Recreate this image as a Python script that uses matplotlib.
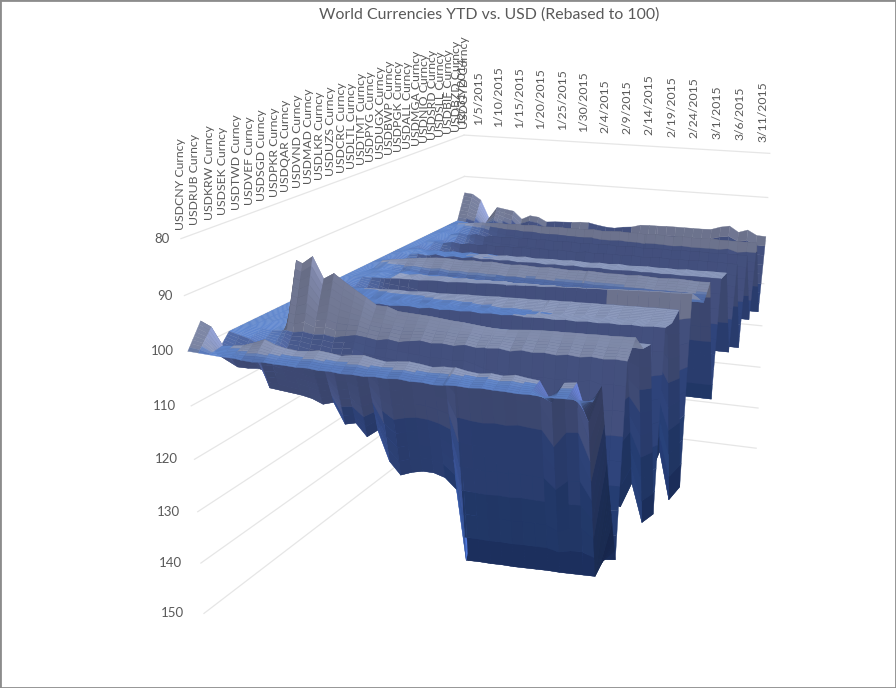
import numpy as np
import matplotlib
matplotlib.use('Agg')
import matplotlib.pyplot as plt
from matplotlib.patches import Rectangle
from matplotlib.colors import to_rgb
from mpl_toolkits.mplot3d import proj3d

series = ['USDCNY', 'USDRUB', 'USDKRW', 'USDSEK', 'USDTWD', 'USDVEF', 'USDSGD', 'USDPKR', 'USDQAR', 'USDVND',
          'USDMAD', 'USDLKR', 'USDUZS', 'USDCRC', 'USDLTL', 'USDTMT', 'USDPYG', 'USDUGX', 'USDBWP', 'USDPGK',
          'USDALL', 'USDMGA', 'USDNIO', 'USDSRD', 'USDSLL', 'USDBIF', 'USDBZD', 'USDGYD']
date_labels = ['12/31/2014', '1/5/2015', '1/10/2015', '1/15/2015', '1/20/2015', '1/25/2015', '1/30/2015', '2/4/2015',
               '2/9/2015', '2/14/2015', '2/19/2015', '2/24/2015', '3/1/2015', '3/6/2015', '3/11/2015']
levels = [80, 90, 100, 110, 120, 130, 140, 150]

# days since 12/31/2014
days = [0, 2, 4, 6, 8, 8.8, 10, 12, 14, 16, 18, 20, 22, 24, 26, 28, 30, 32, 34, 36,
        38, 40, 42, 44, 45.6, 46, 48, 50, 52, 54, 56, 58, 60, 62, 64, 66, 68, 70]

cny = [100, 100.1, 100.2, 100.3, 100.3, 100.3, 100.5, 100.6, 100.4, 100.5, 100.5, 100.6, 100.5, 100.7, 100.6, 100.8, 100.7, 100.8, 100.6, 100.7,
       100.5, 100.7, 100.6, 100.8, 100.7, 100.6, 100.5, 100.6, 100.4, 100.5, 100.5, 100.6, 100.5, 100.6, 100.6, 100.5, 100.5, 100.5]
rub = [95.7, 96.6, 99.8, 99.6, 99.3, 99, 98.6, 97.8, 98.6, 99, 99.2, 99, 98.7, 98.9, 99.2, 98.8, 98.6, 99, 99.3, 99,
       98.8, 99, 99.3, 99, 99, 98.9, 99.3, 99.5, 99.2, 99.4, 99, 99.3, 99.5, 103, 99.4, 99.1, 105.5, 99.3]
krw = [103, 104, 105, 105, 104.8, 105, 108.2, 108.4, 108.6, 108.8, 109.2, 110, 109.4, 113.2, 112.7, 115, 113.5, 119, 121.3, 120.5,
       120, 120, 120.6, 122.5, 135.5, 135.5, 135.4, 135.4, 135.3, 135.3, 135.2, 135.1, 135, 135, 134.9, 134.8, 134.7, 118]
sek = [100, 100.5, 101, 102, 103, 103.5, 105, 106, 106.5, 107, 107.5, 108, 108, 110, 110.5, 112, 112, 116, 119, 119,
       119, 119.5, 120, 122, 128, 129, 131, 132, 133, 133, 133, 132.5, 132, 133, 131, 134, 133.5, 133.2]
twd = [100, 100, 100.2, 100.4, 100.2, 100.1, 100.3, 100, 100.3, 100.1, 100.4, 100, 99.6, 99.8, 100.1, 99.7, 100, 99.6, 99.3, 99.6,
       99.4, 99.6, 99.2, 99.5, 99.3, 99.3, 99.1, 99.4, 99, 99.2, 99, 99.2, 98.9, 99.1, 98.8, 99, 98.8, 98.9]
vef = [100, 100, 100, 100.2, 100.4, 88, 88.5, 87, 91, 89.8, 91.2, 92.5, 93.7, 95, 95, 95.7, 95.8, 95.9, 96, 96.2,
       96.4, 96.5, 96.7, 96.9, 97, 97, 97, 96.8, 96.6, 96.5, 96.4, 96.4, 96.3, 96.3, 96.2, 96.2, 96.1, 96]
sgd = [100, 100.1, 100.3, 100.2, 100.4, 100.3, 100.2, 100.4, 100.1, 100.3, 100, 100.2, 99.9, 100.1, 99.8, 100, 99.7, 99.9, 99.6, 99.8,
       99.7, 99.5, 99.7, 99.4, 99.5, 99.6, 99.4, 99.5, 99.3, 99.4, 99.2, 99.4, 99.3, 99.2, 99.3, 99.1, 99.2, 99.2]
pkr = [100, 100.2, 100, 99.8, 99.9, 100, 99.8, 100, 99.8, 99.9, 100, 99.8, 99.9, 99.7, 99.9, 99.8, 99.7, 99.9, 99.8, 99.7,
       99.8, 99.6, 99.8, 99.7, 99.8, 99.7, 99.6, 99.8, 99.7, 99.8, 99.6, 99.8, 99.7, 99.8, 99.6, 99.7, 99.7, 99.7]
qar = [100, 100.5, 101, 102, 104, 104.5, 106, 108, 110, 111, 112, 113.5, 113.5, 116, 116, 118, 118, 122, 124, 125,
       126, 126.5, 127, 128, 129, 129.5, 130, 130.5, 131, 131.5, 132, 132, 132, 132.5, 133, 128, 135.5, 133.5]
vnd = [100, 100.3, 100.1, 100.4, 100.2, 100.2, 100.4, 100.1, 100.3, 100, 100.2, 100, 99.9, 100.1, 99.8, 100, 99.8, 99.9, 99.7, 99.9,
       99.7, 99.8, 99.6, 99.7, 99.6, 99.6, 99.5, 99.6, 99.4, 99.5, 99.3, 99.4, 99.2, 99.3, 99.1, 99.2, 99, 99]
mad = [100, 100.2, 100, 100.3, 100.5, 100.3, 100.1, 100.4, 100, 100.3, 100, 100.2, 100.4, 100, 100.1, 99.9, 100.2, 99.9, 100.1, 99.8,
       100, 99.8, 99.9, 99.8, 99.7, 99.7, 99.8, 99.6, 99.7, 99.5, 99.6, 99.4, 99.5, 99.4, 99.3, 99.4, 99.3, 99.3]
lkr = [100, 100, 99.9, 99.8, 99.7, 99.7, 99.6, 99.6, 99.5, 99.4, 99.5, 99.3, 99.2, 99.3, 99.2, 99.1, 99, 99, 98.9, 98.8,
       98.8, 98.7, 98.7, 98.6, 98.6, 98.5, 98.5, 98.4, 98.4, 98.3, 98.3, 98.2, 98.2, 98.1, 98.1, 98, 98, 98]
uzs = [100, 100.5, 101.5, 103, 105, 106, 108, 110, 112, 114, 115, 116, 116, 120, 120, 122, 122, 126, 128, 129,
       129, 130, 131, 132, 132.5, 133, 133.5, 133.5, 134, 133.5, 134, 133.5, 134, 133, 134, 128, 137.8, 134.8]
crc = [100, 100, 99.9, 99.9, 99.8, 99.8, 99.7, 99.6, 99.5, 99.6, 99.4, 99.3, 99.4, 99.2, 99.1, 99.1, 98.9, 98.8, 98.8, 98.6,
       98.5, 98.4, 98.4, 98.2, 98.1, 98.1, 98, 97.9, 97.8, 97.7, 97.6, 97.5, 97.4, 97.3, 97.2, 97.2, 97.1, 97]
ltl = [100, 100.1, 100, 99.7, 99.8, 99.8, 99.6, 99.8, 99.5, 99.7, 99.6, 99.5, 99.7, 99.5, 99.6, 99.4, 99.5, 99.3, 99.5, 99.4,
       99.3, 99.4, 99.2, 99.4, 99.3, 99.3, 99.2, 99.3, 99.2, 99.3, 99.1, 99.2, 99.1, 99.2, 99, 99.1, 99, 99]
tmt = [100, 100.4, 100, 100.3, 100.6, 100.4, 100.2, 100.5, 100.8, 100.5, 100.9, 100.6, 101, 100.7, 101, 100.8, 101, 100.9, 101.1, 100.9,
       101, 101.1, 101, 101.1, 101, 101, 101.2, 101, 101.1, 101, 101, 100.9, 101, 100.9, 101, 100.9, 101, 101]
pyg = [100, 99.7, 99.3, 99, 98.7, 98.6, 98.4, 98.2, 98, 97.9, 98, 98.1, 97.9, 98, 97.8, 98, 98.1, 97.9, 98, 98.1,
       97.9, 98, 98.1, 98, 98, 97.9, 98, 98.1, 98, 98.1, 97.9, 98, 98.1, 98, 97.9, 98, 98.1, 98]
ugx = [100, 100.4, 101.5, 103.5, 106.5, 107, 110, 113, 115, 116, 117, 118, 118.5, 119, 119.5, 120, 121, 120.5, 121.5, 122,
       122, 122.5, 123, 123, 123.2, 123, 123.5, 123.3, 123.6, 123.4, 123.8, 123.5, 123.8, 123.8, 123.8, 123.8, 123.8, 123.8]
bwp = [100, 99.8, 100.2, 99.8, 100, 99.9, 99.6, 100, 99.7, 99.9, 99.5, 99.8, 99.6, 99.7, 99.5, 99.7, 99.6, 99.5, 99.7, 99.5,
       99.6, 99.4, 99.6, 99.5, 99.4, 99.5, 99.6, 99.5, 99.4, 99.5, 99.4, 99.5, 99.4, 99.5, 99.4, 99.4, 99.4, 99.4]
pgk = [100, 100, 99.7, 100, 99.8, 99.8, 100, 99.7, 99.9, 99.6, 99.8, 99.6, 99.8, 99.6, 99.7, 99.5, 99.7, 99.6, 99.5, 99.6,
       99.4, 99.5, 99.6, 99.4, 99.5, 99.5, 99.3, 99.5, 99.4, 99.3, 99.4, 99.3, 99.4, 99.2, 99.3, 99.2, 99.2, 99.2]
all_ = [100, 100.3, 101.5, 103, 105.5, 106, 108, 110.5, 112.5, 113, 114, 114.5, 115, 115.5, 116, 116.5, 116.5, 116.5, 117, 117,
        117.5, 117, 117.5, 117.5, 117.5, 117.5, 117.5, 117.5, 117.5, 117.4, 117.5, 117.5, 117.5, 117.5, 117.5, 117.5, 117.5, 117.5]
mga = [100, 100.2, 100, 100.3, 99.9, 100, 100.2, 99.9, 100.1, 99.8, 100, 99.8, 99.9, 99.7, 99.9, 99.7, 99.8, 99.6, 99.7, 99.8,
       99.5, 99.7, 99.6, 99.5, 99.6, 99.6, 99.4, 99.6, 99.5, 99.4, 99.5, 99.4, 99.5, 99.3, 99.4, 99.3, 99.4, 99.4]
nio = [100, 100.2, 100.8, 102, 103.5, 104, 106, 108, 110, 111, 112, 113, 113.5, 114, 115, 115.5, 116, 116, 117, 117,
       117.5, 117.5, 118, 118, 118, 118.2, 118, 118.4, 118.2, 118.5, 118.4, 118.6, 118.8, 118.6, 117, 120, 119, 119]
srd = [100, 99.9, 100.3, 99.9, 100.1, 100, 99.8, 100.2, 99.9, 100, 99.8, 100, 99.8, 99.9, 99.7, 99.9, 99.8, 99.7, 99.9, 99.7,
       99.8, 99.6, 99.8, 99.7, 99.6, 99.6, 99.8, 99.7, 99.6, 99.7, 99.5, 99.6, 99.5, 99.6, 99.5, 99.5, 99.5, 99.5]
sll = [100, 100.2, 100.8, 101.5, 103, 103.5, 105, 107, 108, 109, 110, 110.5, 111, 111.5, 112, 112, 113, 112.5, 113, 113.5,
       114, 113.5, 114, 114.5, 114.5, 114.2, 114.5, 114.2, 114.6, 114.4, 114.7, 114.5, 114.8, 114.5, 112, 117, 115, 115]
bif = [100, 99.7, 99.4, 99.2, 99, 99, 98.9, 98.8, 98.9, 98.7, 98.8, 98.6, 98.8, 98.7, 98.6, 98.7, 98.6, 98.7, 98.5, 98.7,
       98.6, 98.5, 98.6, 98.5, 98.7, 98.6, 98.5, 98.6, 98.7, 98.5, 98.6, 98.6, 98.5, 98.6, 98.6, 98.6, 98.6, 98.6]
bzd = [100, 100.2, 100.6, 101.5, 102.5, 103, 104, 105.5, 107, 108, 109, 110, 110.5, 111, 111.5, 112, 112.5, 113, 113, 113.5,
       114, 114, 114.5, 114.5, 114.8, 114.6, 115, 114.8, 115, 115, 115.2, 115, 115.2, 115.4, 114, 116.5, 115.5, 115.5]
gyd = [94, 94.2, 95.5, 99.8, 97, 97.1, 97.3, 97.6, 99.4, 98.4, 98.6, 99.6, 99.4, 99.3, 99.2, 99, 99, 99.4, 99.7, 99.8,
       99.4, 99.2, 98.6, 98.5, 98.5, 98.5, 98.4, 98.4, 98.4, 98.4, 98.4, 98.3, 97.6, 97.2, 98.5, 97.8, 98.9, 99]

rows = [cny, rub, krw, sek, twd, vef, sgd, pkr, qar, vnd, mad, lkr, uzs, crc, ltl, tmt, pyg, ugx, bwp, pgk, all_, mga, nio, srd, sll, bif, bzd, gyd]
Z = np.array(rows, float)
days = np.array(days, float)

fig = plt.figure(figsize=(8.96, 6.88), dpi=100)
ax = fig.add_axes([0, 0, 1, 1], projection='3d', computed_zorder=False)
ax.set_xlim(0, 70)
ax.set_ylim(0, 27)
ax.set_zlim(150, 80)
ax.set_axis_off()
ax.view_init(elev=16.732, azim=-68.8442)
ax.set_proj_type('persp', focal_length=0.3855)
ay_box, az_box = 1.6703, 0.9439
ax.set_box_aspect((1, ay_box, az_box))
# same pixel scale for the 2d view of the 3d axes
scale, tx, ty = 4141.57, 515.13, 360.4
x0, x1 = ax.viewLim.intervalx
y0, y1 = ax.viewLim.intervaly
w = scale * (x1 - x0)
ax.set_position([(tx + scale * x0) / 896, (688 - ty + scale * y0) / 688, w / 896, w / 688])

# gridlines on the two back walls
for z in levels:
    ax.plot([0, 0], [0, 27], [z, z], color='#e6e6e6', lw=0.9, zorder=1)
    ax.plot([0, 70], [27, 27], [z, z], color='#e6e6e6', lw=0.9, zorder=1)

# finer steps between the series so the colour bands come out flat
sub = 8
yf = np.arange(Z.shape[0] * sub - sub + 1) / sub
Zf = np.array([np.interp(yf, np.arange(Z.shape[0]), Z[:, j]) for j in range(Z.shape[1])]).T
X, Y = np.meshgrid(days, yf)

band_cols = np.array([to_rgb(c) for c in ['#6f748c', '#666c85', '#3f4b76', '#2c4074', '#233a6c', '#1e3263', '#182b55', '#152548']])
zm = (Zf[:-1, :-1] + Zf[1:, :-1] + Zf[:-1, 1:] + Zf[1:, 1:]) / 4
dx = np.diff(days) / 70
dzx = np.diff(Zf, axis=1)
dzy = np.diff(Zf, axis=0)
hx = (dzx[:-1, :] + dzx[1:, :]) / 2 * (-az_box / 70) / dx
hy = (dzy[:, :-1] + dzy[:, 1:]) / 2 * (-az_box / 70) / (ay_box / sub / 27)
nrm = np.sqrt(hx ** 2 + hy ** 2 + 1)
nx, ny, nz = -hx / nrm, -hy / nrm, 1 / nrm
band = np.clip(((zm - 80) // 10).astype(int), 0, 7)
flat = np.where((zm >= 99.7)[..., None], np.array(to_rgb('#5f86cc')), np.array(to_rgb('#8f9dc0')))
# only the top plane gets the bright blue, deep flat parts stay in their band
flat = np.where((zm >= 103)[..., None], band_cols[band] * 1.15, flat)
t = (nz ** 4)[..., None]
fc = band_cols[band] * (1 - t) + flat * t
fc = fc * (1 + 0.25 * nx - 0.06 * ny)[..., None]
fc = fc + (np.clip(nx, 0, 1) ** 3)[..., None] * np.array([0.15, 0.2, 0.35])
fc = np.clip(fc, 0, 1)
ax.plot_surface(X, Y, Zf, facecolors=fc, rstride=1, cstride=1, shade=False, linewidth=0.25, antialiased=True, zorder=2)

M = ax.get_proj()
def to2d(x, y, z):
    u, v, _ = proj3d.proj_transform(x, y, z, M)
    return u, v

for i, s in enumerate(series):
    u, v = to2d(0, i, 78.5)
    ax.text2D(u, v, s + ' Curncy', transform=ax.transData, rotation=90, ha='center', va='bottom', fontsize=8.8, color='#595959', family='Lato')
for i, d in enumerate(date_labels):
    u, v = to2d(5 * i - 1.5 if i else -0.5, 27, 77.5)
    ax.text2D(u, v, d, transform=ax.transData, rotation=90, ha='center', va='bottom', fontsize=8.8, color='#595959', family='Lato')
for z in levels:
    ax.annotate(str(z), to2d(0, 0, z), xytext=(-11 - 0.13 * (z - 80), 0), textcoords='offset pixels', ha='right', va='center', fontsize=9.5, color='#595959', family='Lato')

fig.text(489 / 896, 1 - 15 / 688, 'World Currencies YTD vs. USD (Rebased to 100)', ha='center', va='center', fontsize=11.4, color='#595959', family='Lato')
fig.add_artist(Rectangle((0, 0), 1, 1, transform=fig.transFigure, fill=False, edgecolor='#8c8c8c', lw=2))
fig.savefig('out.png', dpi=100)
